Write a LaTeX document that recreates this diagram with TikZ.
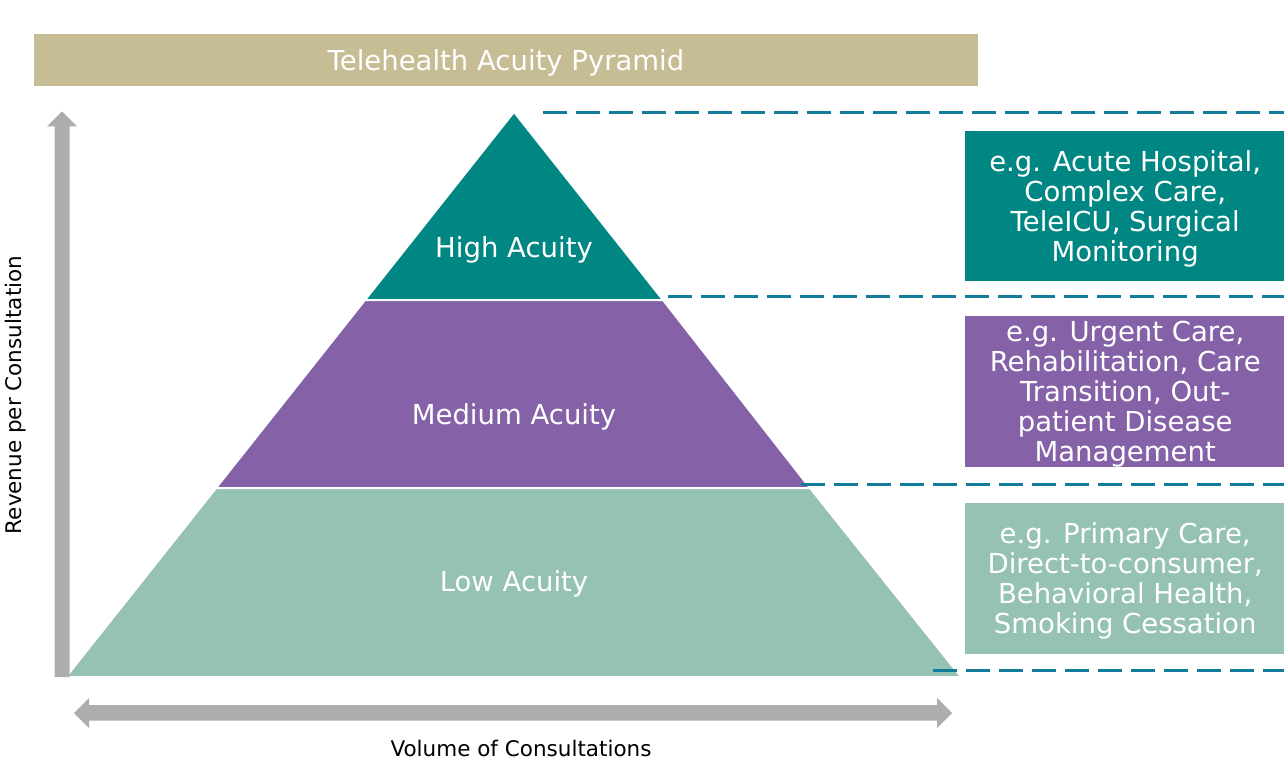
\documentclass[tikz,border=0pt]{standalone}
\usepackage{fontspec}
\setmainfont{DejaVu Sans}
\definecolor{titlecol}{HTML}{C6BD95}
\definecolor{highcol}{HTML}{008784}
\definecolor{medcol}{HTML}{8561A7}
\definecolor{lowcol}{HTML}{95C2B3}
\definecolor{dashcol}{HTML}{137C9A}
\definecolor{axiscol}{HTML}{ADADAD}
\begin{document}
\begin{tikzpicture}[x=1pt,y=-1pt,
  tier/.style={draw=white,line width=2pt},
  bigtext/.style={text=white,inner sep=0pt,font=\fontsize{27.5}{30}\selectfont},
  infobox/.style={anchor=north west,minimum width=320pt,inner sep=0pt},
  infotext/.style={bigtext,align=center},
  levelline/.style={draw=dashcol,line width=3pt,dash pattern=on 24pt off 9pt},
  axisarrow/.style={fill=axiscol,draw=none},
  axislabel/.style={text=black,font=\fontsize{21.5}{24}\selectfont}]
\useasboundingbox (0,0) rectangle (1284,767);
% title
\node[fill=titlecol,minimum width=944pt,minimum height=52pt,inner sep=0pt] (titlebar) at (506,60) {};
\node[bigtext] (title) at ([yshift=-3pt]titlebar.center) {Telehealth Acuity Pyramid};
% pyramid tiers
\coordinate (apex) at (514,112);
\coordinate (hl) at (365,300);
\coordinate (hr) at (663,300);
\coordinate (ml) at (216,488);
\coordinate (mr) at (810,488);
\coordinate (bl) at (66,677);
\coordinate (br) at (961,677);
\fill[highcol,tier] (apex) -- (hr) -- (hl) -- cycle;
\fill[medcol,tier] (hl) -- (hr) -- (mr) -- (ml) -- cycle;
\fill[lowcol,tier] (ml) -- (mr) -- (br) -- (bl) -- cycle;
\node[bigtext] (high) at (514,250) {High Acuity};
\node[bigtext] (med) at (514,417) {Medium Acuity};
\node[bigtext] (low) at (514,584) {Low Acuity};
% info boxes
\node[infobox,fill=highcol,minimum height=150pt] (hbox) at (965,131) {};
\node[infotext] (htext) at ([yshift=-2.5pt]hbox.center) {e.g. Acute Hospital,\\Complex Care,\\TeleICU, Surgical\\Monitoring};
\node[infobox,fill=medcol,minimum height=151pt] (mbox) at (965,316) {};
\node[infotext] (mtext) at ([yshift=-2.5pt]mbox.center) {e.g. Urgent Care,\\Rehabilitation, Care\\Transition, Out-\\patient Disease\\Management};
\node[infobox,fill=lowcol,minimum height=151pt] (lbox) at (965,503) {};
\node[infotext] (ltext) at ([yshift=-2.5pt]lbox.center) {e.g. Primary Care,\\Direct-to-consumer,\\Behavioral Health,\\Smoking Cessation};
% dashed level lines
\coordinate (d1a) at (543,113); \coordinate (d1b) at (1284,113);
\coordinate (d2a) at (668,296); \coordinate (d2b) at (1284,296);
\coordinate (d3a) at (801,484); \coordinate (d3b) at (1284,484);
\coordinate (d4a) at (933,670); \coordinate (d4b) at (1284,670);
\draw[levelline] (d1a) -- (d1b);
\draw[levelline] (d2a) -- (d2b);
\draw[levelline] (d3a) -- (d3b);
\draw[levelline] (d4a) -- (d4b);
% axes
\fill[axisarrow] (54.5,677) -- (54.5,126.5) -- (47,126.5) -- (62,111.5) -- (77,126.5) -- (69.5,126.5) -- (69.5,677) -- cycle;
\fill[axisarrow] (74,713) -- (89,698) -- (89,705) -- (937,705) -- (937,698) -- (952,713) -- (937,728) -- (937,720.5) -- (89,720.5) -- (89,728) -- cycle;
\node[axislabel] (xlab) at (521,748) {Volume of Consultations};
\node[axislabel,rotate=90] (ylab) at (16,395) {Revenue per Consultation};
\end{tikzpicture}
\end{document}
